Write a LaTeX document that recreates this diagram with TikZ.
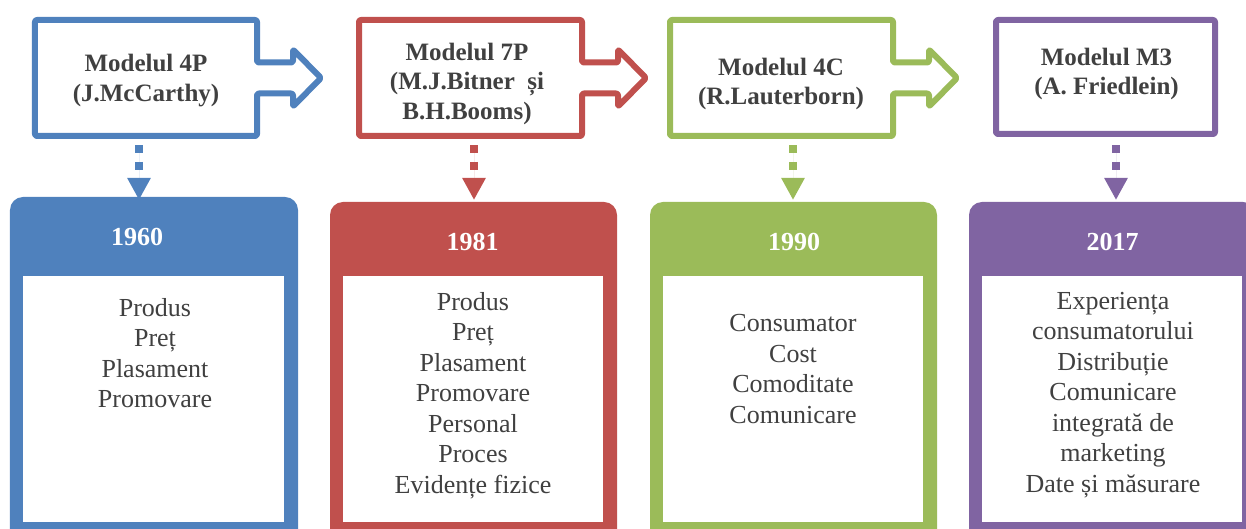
\documentclass[tikz,border=0pt]{standalone}
\usepackage{fontspec}
\setmainfont{Liberation Serif}
\usetikzlibrary{arrows.meta,calc}
\definecolor{cblue}{HTML}{4F81BD}
\definecolor{cred}{HTML}{C0504D}
\definecolor{cgreen}{HTML}{9BBB59}
\definecolor{cpurple}{HTML}{8064A2}
\definecolor{txt}{HTML}{404040}
\newcommand\callpath[1]{(#1.north west) -- (#1.north east) -- ($(#1.east)+(0,-15.5)$) -- ($(#1.east)+(36,-15.5)$) -- ($(#1.east)+(36,-28.5)$) -- ($(#1.east)+(64,0)$) -- ($(#1.east)+(36,28.5)$) -- ($(#1.east)+(36,15.5)$) -- ($(#1.east)+(0,15.5)$) -- (#1.south east) -- (#1.south west) -- cycle}
\newcommand\bodyshape[2]{%
  \fill[#2, rounded corners=13bp] ($(#1.south west)+(0,20)$) -- (#1.north west) -- (#1.north east) -- ($(#1.south east)+(0,20)$) -- cycle;
  \fill[white] ($(#1.south west)+(13,-7)$) rectangle ($(#1.south east)+(-14,-253)$);}
\begin{document}
\begin{tikzpicture}[x=1bp,y=-1bp,
  frame/.style={draw=none, inner sep=0pt, outer sep=0pt},
  outline/.style={line width=6bp, rounded corners=2bp, line join=round},
  conn/.style={line width=8bp, dash pattern=on 8bp off 8.5bp, -{Triangle[length=22bp,width=22bp]}},
  title/.style={font=\fontsize{25bp}{29.5bp}\selectfont\bfseries, text=txt, align=center, anchor=north, inner sep=0pt},
  year/.style={font=\fontsize{26bp}{30bp}\selectfont\bfseries, text=white, inner sep=0pt},
  body/.style={font=\fontsize{26bp}{30.5bp}\selectfont, text=txt, align=center, anchor=north, inner sep=0pt}]
\useasboundingbox (0,0) rectangle (1246,529);

% top frames
\node[frame, minimum width=222bp, minimum height=116bp] (A1) at (146,78) {};
\node[frame, minimum width=223bp, minimum height=116bp] (A2) at (470.5,78) {};
\node[frame, minimum width=223bp, minimum height=116bp] (A3) at (781.5,78) {};
\node[frame, minimum width=219bp, minimum height=114bp] (A4) at (1105.5,77) {};
\draw[outline, draw=cblue] \callpath{A1};
\draw[outline, draw=cred] \callpath{A2};
\draw[outline, draw=cgreen] \callpath{A3};
\draw[outline, draw=cpurple] (A4.north west) rectangle (A4.south east);

% bottom boxes
\node[frame, minimum width=288bp, minimum height=332bp] (B1) at (154,363) {};
\node[frame, minimum width=287bp, minimum height=327bp] (B2) at (473.5,365.5) {};
\node[frame, minimum width=287bp, minimum height=327bp] (B3) at (793.5,365.5) {};
\node[frame, minimum width=287bp, minimum height=327bp] (B4) at (1112.5,365.5) {};
\bodyshape{B1}{cblue}
\bodyshape{B2}{cred}
\bodyshape{B3}{cgreen}
\bodyshape{B4}{cpurple}

% connectors
\coordinate (s1) at (139,145.5); \coordinate (e1) at (139,200);
\coordinate (s2) at (474,145.5); \coordinate (e2) at (474,200);
\coordinate (s3) at (793,145.5); \coordinate (e3) at (793,200);
\coordinate (s4) at (1116,145.5); \coordinate (e4) at (1116,200);
\draw[conn, draw=cblue, fill=cblue] (s1) -- (e1);
\draw[conn, draw=cred, fill=cred] (s2) -- (e2);
\draw[conn, draw=cgreen, fill=cgreen] (s3) -- (e3);
\draw[conn, draw=cpurple, fill=cpurple] (s4) -- (e4);

% titles
\node[title] (T1) at (146,51) {\strut Modelul 4P\\(J.McCarthy)};
\node[title] (T2) at (467,39.4) {\strut Modelul 7P\\(M.J.Bitner\ \ și\\B.H.Booms)};
\node[title] (T3) at (781,54.4) {\strut Modelul 4C\\(R.Lauterborn)};
\node[title] (T4) at (1106.5,44.4) {\strut Modelul M3\\(A. Friedlein)};

% years
\node[year] (Y1) at (137,237) {1960};
\node[year] (Y2) at (472.5,241.5) {1981};
\node[year] (Y3) at (794,241.5) {1990};
\node[year] (Y4) at (1112.5,241.5) {2017};

% bodies
\node[body] (P1) at (155,294.65) {\strut Produs\\Preț\\Plasament\\Promovare};
\node[body] (P2) at (473,288.65) {\strut Produs\\Preț\\Plasament\\Promovare\\Personal\\Proces\\Evidențe fizice};
\node[body] (P3) at (793,310.35) {\strut Consumator\\Cost\\Comoditate\\Comunicare};
\node[body] (P4) at (1113,287.65) {\strut Experiența\\consumatorului\\Distribuție\\Comunicare\\integrată de\\marketing\\Date și măsurare};
\end{tikzpicture}
\end{document}
